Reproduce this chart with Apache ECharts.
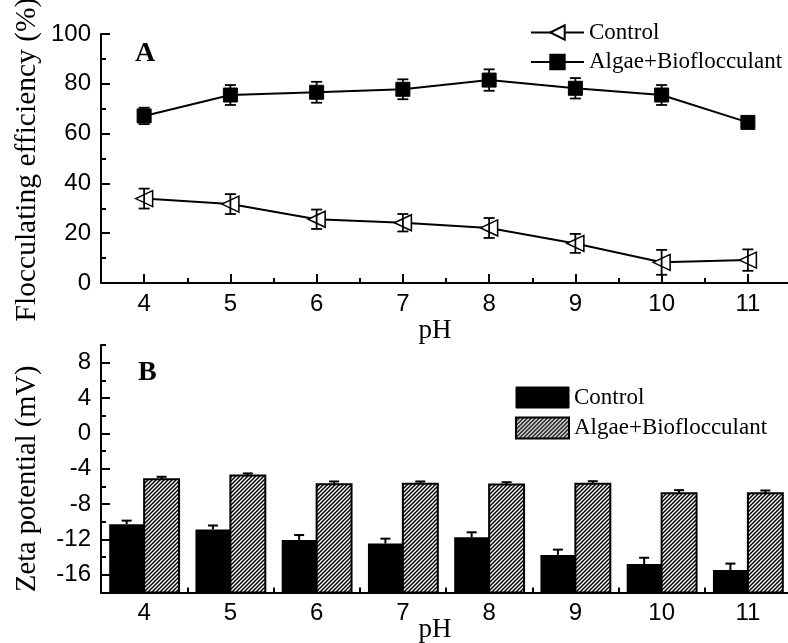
<!DOCTYPE html>
<html><head><meta charset="utf-8">
<script src="https://cdn.jsdelivr.net/npm/echarts@6/dist/echarts.min.js"></script>
<style>html,body{margin:0;padding:0;background:#fff}#c{width:788px;height:643px}</style>
</head><body><div id="c"></div>
<script>
// ---------- data ----------
const pH = [4, 5, 6, 7, 8, 9, 10, 11];
const xTickValues = [4, 5, 6, 7, 8, 9, 10, 11];
const xMinorTickValues = [4.5, 5.5, 6.5, 7.5, 8.5, 9.5, 10.5, 11.5];
const seriesNames = ['Control', 'Algae+Bioflocculant'];

const floccControl    = [33.9, 31.7, 25.6, 24.2, 22.1, 15.9, 8.3, 9.2];
const floccControlErr = [4.0, 4.0, 3.9, 3.5, 4.0, 3.8, 5.0, 4.3];
const floccAlgae      = [67.1, 75.5, 76.6, 77.8, 81.5, 78.2, 75.5, 64.5];
const floccAlgaeErr   = [3.3, 4.0, 4.2, 4.0, 4.3, 4.1, 4.0, 2.0];
const floccTicks      = [0, 20, 40, 60, 80, 100];

const zetaControl     = [-10.27, -10.87, -12.05, -12.46, -11.74, -13.75, -14.77, -15.45];
const zetaControlErr  = [0.40, 0.45, 0.55, 0.55, 0.55, 0.60, 0.70, 0.72];
const zetaAlgae       = [-5.18, -4.76, -5.74, -5.71, -5.78, -5.71, -6.76, -6.76];
const zetaAlgaeErr    = [0.27, 0.23, 0.30, 0.27, 0.26, 0.30, 0.34, 0.30];
const zetaTicks       = [-16, -12, -8, -4, 0, 4, 8];
const zetaMinorTicks  = [-14, -10, -6, -2, 2, 6, 10];

// ---------- styles ----------
const SERIF = "'Liberation Serif', 'Times New Roman', serif";
const SANS = "'Liberation Sans', Arial, sans-serif";
const X_MIN = 3.5, X_MAX = 11.5;
const ZETA_MIN = -18, ZETA_MAX = 10;
const BAR_FRAC = 0.405;

function makeHatch() {
  const s = 4;
  const c = document.createElement('canvas');
  c.width = s; c.height = s;
  const g = c.getContext('2d');
  g.fillStyle = '#fff'; g.fillRect(0, 0, s, s);
  g.strokeStyle = '#000'; g.lineWidth = 1.5;
  g.beginPath();
  g.moveTo(-1, s + 1); g.lineTo(s + 1, -1);
  g.moveTo(-1, 1); g.lineTo(1, -1);
  g.moveTo(s - 1, s + 1); g.lineTo(s + 1, s - 1);
  g.stroke();
  return c;
}
const hatch = { image: makeHatch(), repeat: 'repeat' };

const axisLine = { show: true, onZero: false, lineStyle: { color: '#000', width: 2 } };
const hiddenLine = { show: false, onZero: false };
const tickStyle = { color: '#000', width: 2 };

function xAxes(grid, nameGap) {
  return [
    {
      type: 'value', gridIndex: grid, position: 'bottom', min: X_MIN, max: X_MAX,
      axisLine: axisLine,
      axisTick: { show: true, inside: true, length: 9, customValues: xTickValues, lineStyle: tickStyle },
      axisLabel: { customValues: xTickValues, color: '#000', fontFamily: SANS, fontSize: 24, margin: 9 },
      splitLine: { show: false },
      name: 'pH', nameLocation: 'middle', nameGap: nameGap, nameMoveOverlap: false,
      nameTextStyle: { color: '#000', fontFamily: SERIF, fontSize: 27, padding: [0, 22, 0, 0] }
    },
    {
      type: 'value', gridIndex: grid, position: 'bottom', min: X_MIN, max: X_MAX,
      axisLine: hiddenLine,
      axisTick: { show: true, inside: true, length: 5, customValues: xMinorTickValues, lineStyle: tickStyle },
      axisLabel: { show: false },
      splitLine: { show: false }
    }
  ];
}

const option = {
  animation: false,
  backgroundColor: '#fff',
  grid: [
    { left: 101, top: 34, width: 690, height: 249, containLabel: false, outerBoundsMode: 'none' },
    { left: 101, top: 345, width: 690, height: 247.5, containLabel: false, outerBoundsMode: 'none' }
  ],
  xAxis: [].concat(xAxes(0, 34), xAxes(1, 24)),
  yAxis: [
    {
      type: 'value', gridIndex: 0, position: 'left', min: 0, max: 100, interval: 20,
      axisLine: axisLine,
      axisTick: { show: true, inside: true, length: 9, lineStyle: tickStyle },
      minorTick: { show: true, splitNumber: 2, length: 5, lineStyle: tickStyle },
      axisLabel: { color: '#000', fontFamily: SANS, fontSize: 24, margin: 10 },
      splitLine: { show: false },
      name: 'Flocculating efficiency (%)', nameLocation: 'middle', nameGap: 59, nameMoveOverlap: false,
      nameTextStyle: { color: '#000', fontFamily: SERIF, fontSize: 29.5, padding: [0, 2, 0, 0] }
    },
    {
      type: 'value', gridIndex: 1, position: 'left', min: ZETA_MIN, max: ZETA_MAX,
      axisLine: axisLine,
      axisTick: { show: true, inside: true, length: 9, customValues: zetaTicks, lineStyle: tickStyle },
      axisLabel: { customValues: zetaTicks, color: '#000', fontFamily: SANS, fontSize: 24, margin: 10 },
      splitLine: { show: false },
      name: 'Zeta potential (mV)', nameLocation: 'middle', nameGap: 59, nameMoveOverlap: false,
      nameTextStyle: { color: '#000', fontFamily: SERIF, fontSize: 28.5, padding: [0, 20, 0, 0] }
    },
    {
      type: 'value', gridIndex: 1, position: 'left', min: ZETA_MIN, max: ZETA_MAX,
      axisLine: hiddenLine,
      axisTick: { show: true, inside: true, length: 5, customValues: zetaMinorTicks, lineStyle: tickStyle },
      axisLabel: { show: false },
      splitLine: { show: false }
    }
  ],
  legend: [
    {
      data: seriesNames, orient: 'vertical', left: 530, top: 21, padding: 0,
      itemWidth: 53, itemHeight: 18, itemGap: 6.5, selectedMode: false,
      textStyle: { color: '#000', fontFamily: SERIF, fontSize: 23 }
    },
    {
      data: [
        { name: 'zeta-' + seriesNames[0], icon: 'rect', itemStyle: { color: '#000', borderColor: '#000', borderWidth: 1 } },
        { name: 'zeta-' + seriesNames[1], icon: 'rect', itemStyle: { color: hatch, borderColor: '#000', borderWidth: 2 } }
      ],
      orient: 'vertical', left: 515, top: 386, padding: 0,
      itemWidth: 53, itemHeight: 21, itemGap: 7.5, selectedMode: false,
      formatter: n => n.replace('zeta-', ''),
      textStyle: { color: '#000', fontFamily: SERIF, fontSize: 23 }
    }
  ],
  graphic: [
    { type: 'text', left: 135, top: 40, style: { text: 'A', fill: '#000', font: 'bold 28px ' + SERIF } },
    { type: 'text', left: 138, top: 359, style: { text: 'B', fill: '#000', font: 'bold 28px ' + SERIF } }
  ],
  series: []
};

// ----- panel A : lines -----
option.series.push({
  name: seriesNames[0], type: 'line', xAxisIndex: 0, yAxisIndex: 0,
  data: pH.map((p, i) => [p, floccControl[i]]),
  symbol: 'path://M0,5L10,0L10,10Z', symbolSize: [17, 16], symbolKeepAspect: false,
  itemStyle: { color: '#fff', borderColor: '#000', borderWidth: 1.5 },
  lineStyle: { color: '#000', width: 2 }, z: 2, silent: true
});
option.series.push({
  name: seriesNames[1], type: 'line', xAxisIndex: 0, yAxisIndex: 0,
  data: pH.map((p, i) => [p, floccAlgae[i]]),
  symbol: 'rect', symbolSize: 14,
  itemStyle: { color: '#000', borderColor: '#000', borderWidth: 1 },
  lineStyle: { color: '#000', width: 2 }, z: 2, silent: true
});

function errRender(params, api) {
  const x = api.value(0), v = api.value(1), e = api.value(2);
  const hi = api.coord([x, v + e]);
  const lo = api.coord([x, v - e]);
  const cw = 5.5;
  const st = { stroke: '#000', lineWidth: 1.8 };
  return {
    type: 'group', children: [
      { type: 'line', shape: { x1: hi[0], y1: hi[1], x2: lo[0], y2: lo[1] }, style: st },
      { type: 'line', shape: { x1: hi[0] - cw, y1: hi[1], x2: hi[0] + cw, y2: hi[1] }, style: st },
      { type: 'line', shape: { x1: lo[0] - cw, y1: lo[1], x2: lo[0] + cw, y2: lo[1] }, style: st }
    ]
  };
}
[[floccControl, floccControlErr], [floccAlgae, floccAlgaeErr]].forEach(([vals, errs]) => {
  option.series.push({
    type: 'custom', xAxisIndex: 0, yAxisIndex: 0, z: 3, silent: true,
    renderItem: errRender, encode: { x: 0, y: 1 },
    data: pH.map((p, i) => [p, vals[i], errs[i]])
  });
});

// ----- panel B : bars from axis bottom -----
function barRender(side, fill) {
  return function (params, api) {
    const x = api.value(0), v = api.value(1), e = api.value(2);
    const top = api.coord([x, v]);
    const base = api.coord([x, ZETA_MIN]);
    const up = api.coord([x, v + e]);
    const w = api.size([1, 0])[0] * BAR_FRAC;
    const x0 = side < 0 ? top[0] - w : top[0];
    const cx = x0 + w / 2;
    const st = { stroke: '#000', lineWidth: 2 };
    return {
      type: 'group', children: [
        { type: 'line', shape: { x1: cx, y1: top[1], x2: cx, y2: up[1] }, style: st },
        { type: 'line', shape: { x1: cx - 5, y1: up[1], x2: cx + 5, y2: up[1] }, style: st },
        {
          type: 'rect', shape: { x: x0, y: top[1], width: w, height: base[1] - top[1] },
          style: side < 0 ? { fill: '#000' } : { fill: fill, stroke: '#000', lineWidth: 2 }
        }
      ]
    };
  };
}
option.series.push({
  name: 'zeta-' + seriesNames[0], type: 'custom', xAxisIndex: 2, yAxisIndex: 1, z: 2, silent: true,
  itemStyle: { color: '#000' },
  renderItem: barRender(-1, '#000'), encode: { x: 0, y: 1 },
  data: pH.map((p, i) => [p, zetaControl[i], zetaControlErr[i]])
});
option.series.push({
  name: 'zeta-' + seriesNames[1], type: 'custom', xAxisIndex: 2, yAxisIndex: 1, z: 2, silent: true,
  itemStyle: { color: '#888' },
  renderItem: barRender(1, hatch), encode: { x: 0, y: 1 },
  data: pH.map((p, i) => [p, zetaAlgae[i], zetaAlgaeErr[i]])
});

const chart = echarts.init(document.getElementById('c'));
chart.setOption(option);
</script>
</body></html>
